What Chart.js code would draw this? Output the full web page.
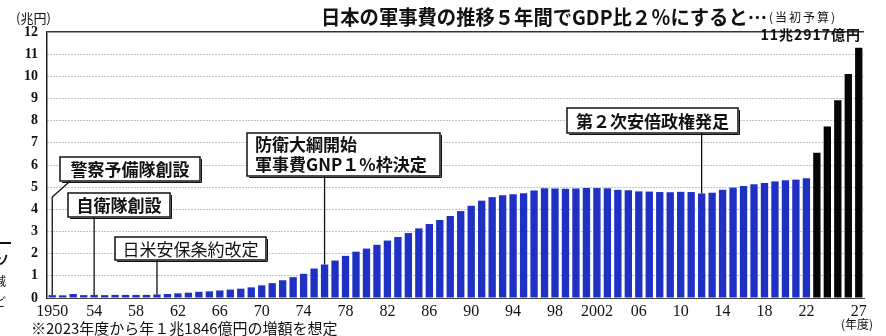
<!DOCTYPE html>
<html>
<head>
<meta charset="utf-8">
<title>日本の軍事費の推移</title>
<script src="https://cdn.jsdelivr.net/npm/chart.js@4.4.0/dist/chart.umd.min.js"></script>
<style>
    body{
        margin: 0;
        background-color: #ffffff;
    }
    #wrap{
        position: relative;
        width: 886px;
        height: 336px;
    }
</style>
</head>
<body>
<div id="wrap"><canvas id="myChart"></canvas></div>

<script>
// 年度 (1950 - 2027)
const years = [
    1950, 1951, 1952, 1953, 1954, 1955, 1956, 1957, 1958, 1959,
    1960, 1961, 1962, 1963, 1964, 1965, 1966, 1967, 1968, 1969,
    1970, 1971, 1972, 1973, 1974, 1975, 1976, 1977, 1978, 1979,
    1980, 1981, 1982, 1983, 1984, 1985, 1986, 1987, 1988, 1989,
    1990, 1991, 1992, 1993, 1994, 1995, 1996, 1997, 1998, 1999,
    2000, 2001, 2002, 2003, 2004, 2005, 2006, 2007, 2008, 2009,
    2010, 2011, 2012, 2013, 2014, 2015, 2016, 2017, 2018, 2019,
    2020, 2021, 2022,
    2023, 2024, 2025, 2026, 2027
]

// 当初予算 (兆円) 1950 - 2022
const budgetValues = [
    0.13, 0.12, 0.18, 0.13, 0.14, 0.13, 0.14, 0.14, 0.14, 0.14,
    0.16, 0.18, 0.21, 0.24, 0.28, 0.30, 0.34, 0.38, 0.42, 0.48,
    0.57, 0.67, 0.80, 0.94, 1.09, 1.33, 1.51, 1.69, 1.90, 2.09,
    2.23, 2.40, 2.59, 2.75, 2.93, 3.14, 3.34, 3.52, 3.70, 3.92,
    4.16, 4.39, 4.55, 4.64, 4.68, 4.72, 4.85, 4.95, 4.94, 4.93,
    4.94, 4.96, 4.96, 4.95, 4.88, 4.86, 4.81, 4.80, 4.78, 4.77,
    4.79, 4.78, 4.71, 4.75, 4.88, 4.98, 5.05, 5.13, 5.19, 5.26,
    5.31, 5.34, 5.40
]

// GDP比2%想定 (兆円) 2023 - 2027
const planValues = [6.55, 7.74, 8.92, 10.11, 11.29]

// x軸の目盛り
const tickYears  = [1950, 1954, 1958, 1962, 1966, 1970, 1974, 1978, 1982, 1986, 1990, 1994, 1998, 2002, 2006, 2010, 2014, 2018, 2022, 2027]
const tickLabels = ['1950', '54', '58', '62', '66', '70', '74', '78', '82', '86', '90', '94', '98', '2002', '06', '10', '14', '18', '22', '27']

// 注記
const eventYears = [1950, 1954, 1960, 1976, 2012]
const eventTexts = [
    ['警察予備隊創設'],
    ['自衛隊創設'],
    ['日米安保条約改定'],
    ['防衛大綱開始', '軍事費GNP１%枠決定'],
    ['第２次安倍政権発足']
]

const titleText = '日本の軍事費の推移５年間でGDP比２％にすると…'
const subTitleText = '(当初予算)'
const topValueText = '11兆2917億円'
const footNoteText = '※2023年度から年１兆1846億円の増額を想定'
</script>

<script>
    const allValues = budgetValues.concat(planValues)
    const barColors = []
    for (i = 0; i < allValues.length; i++) {
        barColors.push(i < budgetValues.length ? '#1f31c2' : '#050505')
    }

    // box layout for each note (x, y, w, h, bold)
    const boxes = [
        {x: 60,  y: 157, w: 140, h: 24, bold: true},
        {x: 68,  y: 193, w: 102, h: 24, bold: true},
        {x: 115, y: 237, w: 151, h: 23, bold: false},
        {x: 247, y: 133, w: 193, h: 43, bold: true},
        {x: 567, y: 108, w: 171, h: 25, bold: true}
    ]

    const JP = '"Noto Sans CJK JP", sans-serif'

    const notePlugin = {
        id: 'notes',
        afterDraw(chart) {
            const ctx = chart.ctx
            const xs = chart.scales.x
            const ys = chart.scales.y
            ctx.save()

            // title
            ctx.fillStyle = '#111'
            ctx.textBaseline = 'middle'
            ctx.textAlign = 'left'
            ctx.font = 'bold 20px ' + JP
            ctx.fillText(titleText, 321, 17, 446)
            ctx.font = '12px ' + JP
            ctx.letterSpacing = '2px'
            ctx.fillText(subTitleText, 769, 17)
            ctx.letterSpacing = '0px'

            // unit
            ctx.font = '13px ' + JP
            ctx.fillText('(兆円)', 16, 18)

            // value above last bar
            ctx.font = 'bold 14px ' + JP
            ctx.letterSpacing = '1px'
            let w = ctx.measureText(topValueText).width
            ctx.fillText(topValueText, 861 - w, 35)
            ctx.letterSpacing = '0px'

            // year unit, foot note
            ctx.font = '12px ' + JP
            ctx.textAlign = 'center'
            ctx.fillText('(年度)', 857, 324)
            ctx.textAlign = 'left'
            ctx.font = '15px ' + JP
            ctx.fillText(footNoteText, 31, 328, 310)

            // cut text from the next article
            ctx.font = 'bold 13px ' + JP
            ctx.fillRect(0, 242, 11, 2)
            ctx.fillText('ソ', -4, 259)
            ctx.font = '12px ' + JP
            ctx.fillText('減', -6, 281)
            ctx.fillText('、', -4, 291)
            ctx.fillText('ど', -6, 302)

            // leader lines
            ctx.strokeStyle = '#111'
            ctx.lineWidth = 1.3
            for (i = 0; i < eventYears.length; i++) {
                const idx = years.indexOf(eventYears[i])
                const px = xs.getPixelForValue(idx)
                const py = ys.getPixelForValue(allValues[idx])
                const b = boxes[i]
                ctx.beginPath()
                if (i == 0) {
                    ctx.moveTo(px + 18, b.y + b.h)
                    ctx.lineTo(px, b.y + b.h + 16)
                } else {
                    ctx.moveTo(px, b.y + b.h)
                }
                ctx.lineTo(px, py)
                ctx.stroke()
            }

            // boxes
            for (i = 0; i < boxes.length; i++) {
                const b = boxes[i]
                ctx.fillStyle = '#ffffff'
                ctx.fillRect(b.x, b.y, b.w, b.h)
                ctx.strokeStyle = '#111'
                ctx.lineWidth = 1.5
                ctx.strokeRect(b.x, b.y, b.w, b.h)
                // small shadow on the bottom-right
                ctx.lineWidth = 1
                ctx.beginPath()
                ctx.moveTo(b.x + 2, b.y + b.h + 1.5)
                ctx.lineTo(b.x + b.w + 1.5, b.y + b.h + 1.5)
                ctx.lineTo(b.x + b.w + 1.5, b.y + 2)
                ctx.stroke()

                ctx.fillStyle = '#111'
                ctx.font = (b.bold ? 'bold ' : '') + '17px ' + JP
                const lines = eventTexts[i]
                if (lines.length == 1) {
                    ctx.textAlign = 'center'
                    ctx.fillText(lines[0], b.x + b.w / 2, b.y + b.h / 2 + 1)
                } else {
                    ctx.textAlign = 'left'
                    ctx.fillText(lines[0], b.x + 8, b.y + 12)
                    ctx.fillText(lines[1], b.x + 8, b.y + 32)
                }
            }
            ctx.restore()
        }
    }

    const ctx1 = document.getElementById('myChart').getContext('2d')
    const mychart = new Chart(ctx1, {
        type: 'bar',
        data: {
            labels: years,
            datasets: [{
                label: '軍事費',
                data: allValues,
                backgroundColor: barColors,
                borderWidth: 0,
                barPercentage: 0.7,
                categoryPercentage: 1.0
            }]
        },
        options: {
            responsive: true,
            maintainAspectRatio: false,
            animation: false,
            layout: {
                padding: {left: 0, right: 22, top: 32, bottom: 0}
            },
            plugins: {
                legend: {display: false},
                tooltip: {enabled: false}
            },
            scales: {
                x: {
                    afterFit: function(scale) { scale.height = 38 },
                    grid: {display: false, drawTicks: false},
                    border: {display: true, color: '#444', width: 1},
                    ticks: {
                        autoSkip: false,
                        maxRotation: 0,
                        padding: 4,
                        color: '#111',
                        font: {family: '"Liberation Serif", serif', size: 16},
                        callback: function(val, idx) {
                            const k = tickYears.indexOf(years[idx])
                            return k >= 0 ? tickLabels[k] : ''
                        }
                    }
                },
                y: {
                    min: 0,
                    max: 12,
                    afterFit: function(scale) { scale.width = 47 },
                    grid: {
                        drawTicks: false,
                        color: function(c) {
                            if (c.tick.value == 12) return '#333'
                            if (c.tick.value == 0) return 'rgba(0,0,0,0)'
                            return '#888'
                        },
                        lineWidth: function(c) { return c.tick.value == 12 ? 1.5 : 1 }
                    },
                    border: {
                        display: true,
                        color: '#222',
                        width: 1.5,
                        dash: function(c) { return c.tick && c.tick.value == 12 ? [] : [1, 2] }
                    },
                    ticks: {
                        stepSize: 1,
                        padding: 9,
                        color: '#111',
                        font: {family: '"Liberation Serif", serif', size: 14, weight: 'bold'}
                    }
                }
            }
        },
        plugins: [notePlugin]
    })
</script>
</body>
</html>
